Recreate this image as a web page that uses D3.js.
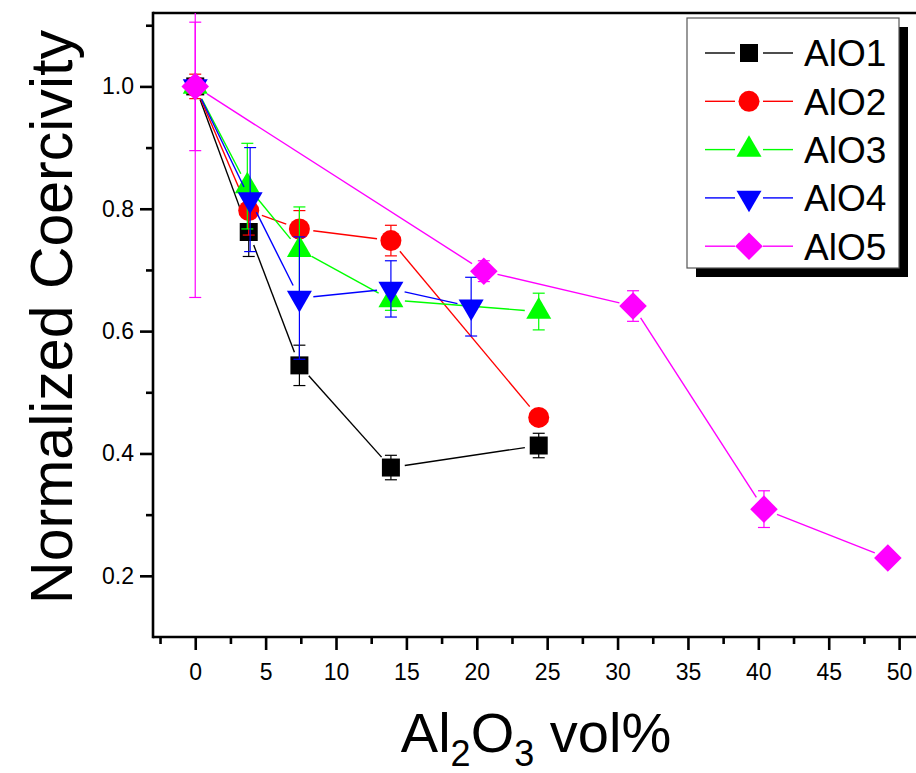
<!DOCTYPE html>
<html>
<head>
<meta charset="utf-8">
<script src="https://cdn.jsdelivr.net/npm/d3@7"></script>
<style>
  html, body { margin: 0; padding: 0; background: #fff; }
  svg { display: block; font-family: "Liberation Sans", Arial, sans-serif; }
</style>
</head>
<body>
<svg id="chart" width="916" height="773"></svg>
<script>
// ---------------- data ----------------
const seriesNames = ["AlO1", "AlO2", "AlO3", "AlO4", "AlO5"];
const xAlO1 = [0, 3.8, 7.4, 13.9, 24.4];
const yAlO1 = [1.0, 0.762, 0.544, 0.377, 0.413];
const eAlO1 = [0.01, 0.04, 0.033, 0.02, 0.02];

const xAlO2 = [0, 3.8, 7.4, 13.9, 24.4];
const yAlO2 = [1.0, 0.797, 0.767, 0.748, 0.459];
const eAlO2 = [0.02, 0.04, 0.03, 0.025, 0];

const xAlO3 = [0, 3.7, 7.4, 13.9, 24.4];
const yAlO3 = [1.0, 0.837, 0.733, 0.651, 0.632];
const eAlO3 = [0.01, 0.07, 0.07, 0.017, 0.03];

const xAlO4 = [0, 3.9, 7.4, 13.9, 19.6];
const yAlO4 = [1.0, 0.815, 0.654, 0.669, 0.640];
const eAlO4 = [0.01, 0.085, 0.1, 0.046, 0.048];

const xAlO5 = [0, 20.5, 31.1, 40.4, 49.2];
const yAlO5 = [1.0, 0.698, 0.641, 0.309, 0.229];
const eAlO5 = [0.345, 0.017, 0.025, 0.03, 0];
const eAlO5Inner = [0.105, 0, 0, 0, 0];

const xTicks = [0, 5, 10, 15, 20, 25, 30, 35, 40, 45, 50];
const xMinorTicks = [-2.5, 2.5, 7.5, 12.5, 17.5, 22.5, 27.5, 32.5, 37.5, 42.5, 47.5];
const yTicks = [0.2, 0.4, 0.6, 0.8, 1.0];
const yMinorTicks = [0.3, 0.5, 0.7, 0.9, 1.1];

const colors = ["#000000", "#ff0000", "#00ff00", "#0000ff", "#ff00ff"];

const series = [
  { name: seriesNames[0], xs: xAlO1, ys: yAlO1, es: [eAlO1], shape: "square", color: colors[0] },
  { name: seriesNames[1], xs: xAlO2, ys: yAlO2, es: [eAlO2], shape: "circle", color: colors[1] },
  { name: seriesNames[2], xs: xAlO3, ys: yAlO3, es: [eAlO3], shape: "triUp", color: colors[2] },
  { name: seriesNames[3], xs: xAlO4, ys: yAlO4, es: [eAlO4], shape: "triDown", color: colors[3] },
  { name: seriesNames[4], xs: xAlO5, ys: yAlO5, es: [eAlO5, eAlO5Inner], shape: "diamond", color: colors[4] }
];

// ---------------- layout ----------------
const svg = d3.select("#chart");
const L = 153, R = 916, T = 13, B = 637;
const x = d3.scaleLinear().domain([-3, 51.2]).range([L, R]);
const y = d3.scaleLinear().domain([0.1, 1.12]).range([B, T]);

svg.append("defs").append("clipPath").attr("id", "plotclip")
  .append("rect").attr("x", L).attr("y", T).attr("width", R - L).attr("height", B - T);

// ---------------- axes ----------------
const axisW = 2.6;
const xAxis = svg.append("g").attr("transform", `translate(0,${B})`)
  .call(d3.axisBottom(x).tickValues(xTicks).tickSize(13).tickSizeOuter(0).tickPadding(10).tickFormat(d3.format("d")));
const xMinor = svg.append("g").attr("transform", `translate(0,${B})`)
  .call(d3.axisBottom(x).tickValues(xMinorTicks).tickSize(7).tickSizeOuter(0).tickFormat(""));
const yAxis = svg.append("g").attr("transform", `translate(${L},0)`)
  .call(d3.axisLeft(y).tickValues(yTicks).tickSize(13).tickSizeOuter(0).tickPadding(6).tickFormat(d3.format(".1f")));
const yMinor = svg.append("g").attr("transform", `translate(${L},0)`)
  .call(d3.axisLeft(y).tickValues(yMinorTicks).tickSize(7).tickSizeOuter(0).tickFormat(""));

[xAxis, xMinor, yAxis, yMinor].forEach(g => {
  g.select(".domain").remove();
  g.selectAll(".tick line").attr("stroke", "#000").attr("stroke-width", axisW);
  g.selectAll(".tick text").attr("fill", "#000").attr("font-size", 23)
    .attr("font-family", "'Liberation Sans', Arial, sans-serif");
});
xAxis.selectAll(".tick text").attr("dy", "0.85em");

// frame lines
svg.append("line").attr("x1", L).attr("x2", L).attr("y1", T - axisW / 2).attr("y2", B + axisW / 2)
  .attr("stroke", "#000").attr("stroke-width", axisW);
svg.append("line").attr("x1", L).attr("x2", R + 5).attr("y1", B).attr("y2", B)
  .attr("stroke", "#000").attr("stroke-width", axisW);
svg.append("line").attr("x1", L).attr("x2", R + 5).attr("y1", T).attr("y2", T)
  .attr("stroke", "#000").attr("stroke-width", axisW);

// ---------------- titles ----------------
svg.append("text")
  .attr("transform", `translate(72,317) rotate(-90)`)
  .attr("text-anchor", "middle")
  .attr("font-size", 59)
  .attr("fill", "#000")
  .text("Normalized Coercivity");

const xt = svg.append("text")
  .attr("x", 536).attr("y", 752)
  .attr("text-anchor", "middle")
  .attr("font-size", 56)
  .attr("fill", "#000");
xt.append("tspan").text("Al");
xt.append("tspan").attr("font-size", 36).attr("dy", 14).text("2");
xt.append("tspan").attr("dy", -14).text("O");
xt.append("tspan").attr("font-size", 36).attr("dy", 14).text("3");
xt.append("tspan").attr("dy", -14).text(" vol%");

// ---------------- marks ----------------
function symbolPath(shape) {
  switch (shape) {
    case "square": return d3.symbol().type(d3.symbolSquare).size(18 * 18)();
    case "circle": return d3.symbol().type(d3.symbolCircle).size(Math.PI * 10.5 * 10.5)();
    case "triUp": return d3.symbol().type(d3.symbolTriangle).size(Math.sqrt(3) / 4 * 25 * 25)();
    case "triDown": return d3.symbol().type(d3.symbolTriangle).size(Math.sqrt(3) / 4 * 25 * 25)();
    case "diamond": return d3.symbol().type(d3.symbolSquare).size(19.5 * 19.5)();
  }
}
function symbolRotate(shape) {
  if (shape === "triDown") return 180;
  if (shape === "diamond") return 45;
  return 0;
}

const plot = svg.append("g").attr("clip-path", "url(#plotclip)");
const gap = 14;

series.forEach(s => {
  const pts = s.xs.map((xv, i) => ({ x: x(xv), y: y(s.ys[i]), i }));
  const g = plot.append("g");

  // error bars
  s.es.forEach(errArr => {
    errArr.forEach((e, i) => {
      if (!e) return;
      const cx = x(s.xs[i]);
      const y0 = y(s.ys[i] - e), y1 = y(s.ys[i] + e);
      g.append("line").attr("x1", cx).attr("x2", cx).attr("y1", y0).attr("y2", y1)
        .attr("stroke", s.color).attr("stroke-width", 1.2);
      [y0, y1].forEach(yy => {
        g.append("line").attr("x1", cx - 6).attr("x2", cx + 6).attr("y1", yy).attr("y2", yy)
          .attr("stroke", s.color).attr("stroke-width", 1.2);
      });
    });
  });

  // connecting line segments with gaps at markers
  for (let k = 0; k < pts.length - 1; k++) {
    const a = pts[k], b = pts[k + 1];
    const dx = b.x - a.x, dy = b.y - a.y;
    const len = Math.hypot(dx, dy);
    if (len <= 2 * gap) continue;
    const ux = dx / len, uy = dy / len;
    g.append("line")
      .attr("x1", a.x + ux * gap).attr("y1", a.y + uy * gap)
      .attr("x2", b.x - ux * gap).attr("y2", b.y - uy * gap)
      .attr("stroke", s.color).attr("stroke-width", 1.4);
  }

  // markers
  g.selectAll("path.m").data(pts).join("path")
    .attr("class", "m")
    .attr("d", symbolPath(s.shape))
    .attr("transform", d => `translate(${d.x},${d.y}) rotate(${symbolRotate(s.shape)})`)
    .attr("fill", s.color);
});

// ---------------- legend ----------------
const lgX = 687, lgY = 18, lgW = 212, lgH = 250;
svg.append("rect").attr("x", lgX + 9).attr("y", lgY + 9).attr("width", lgW).attr("height", lgH).attr("fill", "#000");
svg.append("rect").attr("x", lgX).attr("y", lgY).attr("width", lgW).attr("height", lgH)
  .attr("fill", "#fff").attr("stroke", "#555").attr("stroke-width", 1.2);

series.forEach((s, i) => {
  const cy = lgY + 35 + i * 48.3;
  const g = svg.append("g");
  g.append("line").attr("x1", 705).attr("x2", 735).attr("y1", cy).attr("y2", cy)
    .attr("stroke", s.color).attr("stroke-width", 1.4);
  g.append("line").attr("x1", 763).attr("x2", 793).attr("y1", cy).attr("y2", cy)
    .attr("stroke", s.color).attr("stroke-width", 1.4);
  g.append("path").attr("d", symbolPath(s.shape))
    .attr("transform", `translate(749,${cy}) rotate(${symbolRotate(s.shape)})`)
    .attr("fill", s.color);
  g.append("text").attr("x", 804).attr("y", cy).attr("dy", "0.36em")
    .attr("font-size", 37).attr("fill", "#000").text(s.name);
});
</script>
</body>
</html>
